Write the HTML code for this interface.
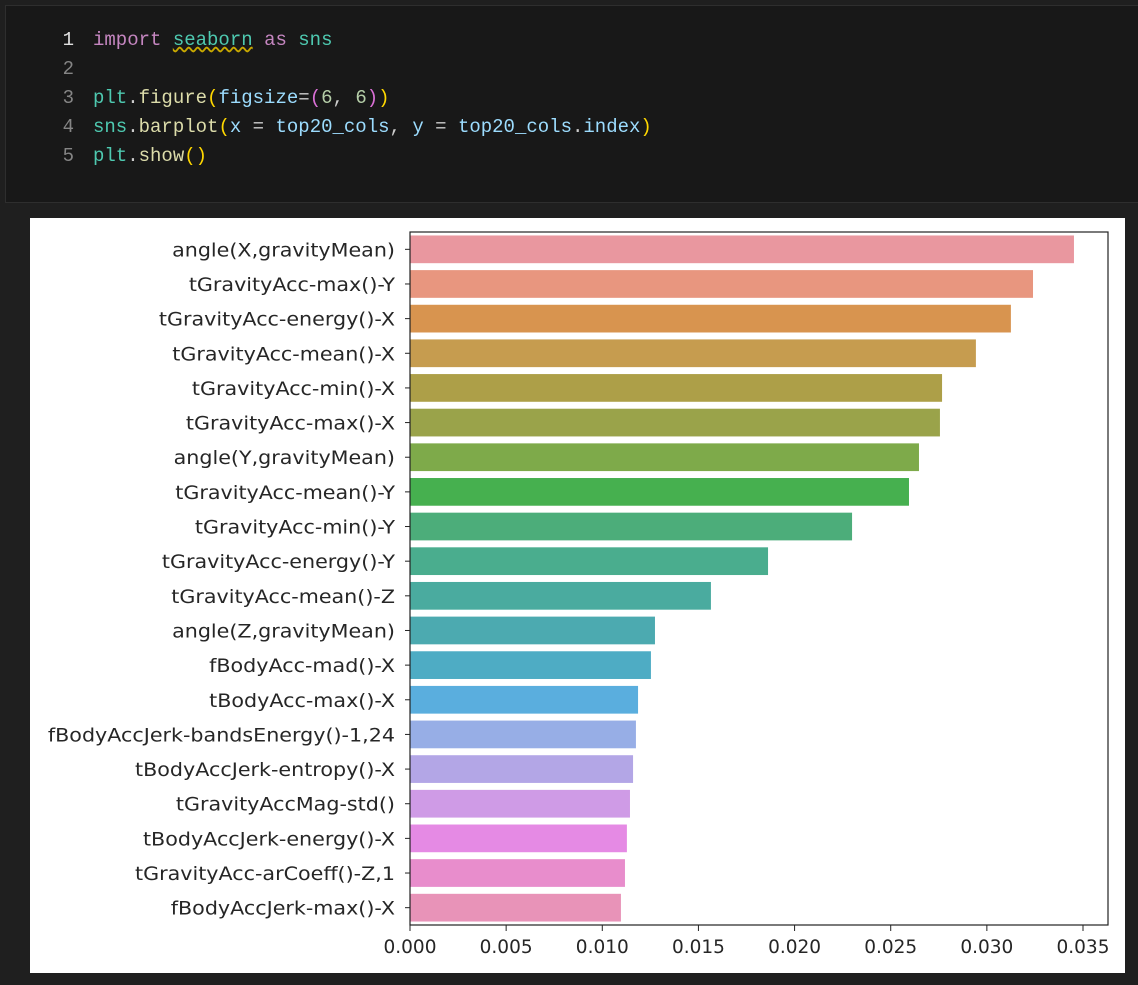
<!DOCTYPE html>
<html><head><meta charset="utf-8"><style>
body{margin:0;width:1138px;height:985px;background:#1f1f1f;overflow:hidden;position:relative;font-family:"Liberation Sans","DejaVu Sans",sans-serif}
#code{position:absolute;left:5px;top:5px;width:1140px;height:198px;background:#181818;border:1px solid #2e2e2e;box-sizing:border-box}
.ln{position:absolute;left:0;width:68px;text-align:right;color:#858585;font:19px "Liberation Mono","DejaVu Sans Mono",monospace}
.cd{position:absolute;left:87px;color:#ccc;font:19px "Liberation Mono","DejaVu Sans Mono",monospace;white-space:pre}
.k{color:#c586c0}.m{color:#4ec9b0}.f{color:#dcdcaa}.v{color:#9cdcfe}.n{color:#b5cea8}.p{color:#ffd700}.p2{color:#da70d6}
#fig{position:absolute;left:30px;top:218px;width:1095px;height:755px;background:#fff}
</style></head><body>
<div id="code">
<div class="ln" style="top:23px;color:#e0e0e0">1</div>
<div class="cd" style="top:23px"><span class="k">import</span> <span class="m" style="text-decoration:underline wavy #c8a800">seaborn</span> <span class="k">as</span> <span class="m">sns</span></div>
<div class="ln" style="top:52px">2</div>
<div class="ln" style="top:81px">3</div>
<div class="cd" style="top:81px"><span class="m">plt</span>.<span class="f">figure</span><span class="p">(</span><span class="v">figsize</span>=<span class="p2">(</span><span class="n">6</span>, <span class="n">6</span><span class="p2">)</span><span class="p">)</span></div>
<div class="ln" style="top:110px">4</div>
<div class="cd" style="top:110px"><span class="m">sns</span>.<span class="f">barplot</span><span class="p">(</span><span class="v">x</span> = <span class="v">top20_cols</span>, <span class="v">y</span> = <span class="v">top20_cols</span>.<span class="v">index</span><span class="p">)</span></div>
<div class="ln" style="top:139px">5</div>
<div class="cd" style="top:139px"><span class="m">plt</span>.<span class="f">show</span><span class="p">()</span></div>
</div>
<div id="fig">
<svg id="chart" width="1095" height="755"></svg>
</div>
<script>
const categories=["angle(X,gravityMean)","tGravityAcc-max()-Y","tGravityAcc-energy()-X","tGravityAcc-mean()-X","tGravityAcc-min()-X","tGravityAcc-max()-X","angle(Y,gravityMean)","tGravityAcc-mean()-Y","tGravityAcc-min()-Y","tGravityAcc-energy()-Y","tGravityAcc-mean()-Z","angle(Z,gravityMean)","fBodyAcc-mad()-X","tBodyAcc-max()-X","fBodyAccJerk-bandsEnergy()-1,24","tBodyAccJerk-entropy()-X","tGravityAccMag-std()","tBodyAccJerk-energy()-X","tGravityAcc-arCoeff()-Z,1","fBodyAccJerk-max()-X"];
const values=[0.03453,0.03240,0.03125,0.02943,0.02767,0.02756,0.02647,0.02595,0.02299,0.01862,0.01565,0.01274,0.01253,0.01186,0.01175,0.01160,0.01144,0.01128,0.01118,0.01097];
const colors=["#e9979f","#e8967f","#d8944f","#c69c4f","#ad9f48","#9aa34a","#7eaa4a","#46b04f","#4cad7a","#4aad8e","#4aab9f","#4caab0","#4eacc4","#5aaede","#97aee6","#b3a6e6","#cf9be6","#e58ae4","#e88dcc","#e893b8"];
const ticks=[0,0.005,0.01,0.015,0.02,0.025,0.03,0.035];
const tickLabels=["0.000","0.005","0.010","0.015","0.020","0.025","0.030","0.035"];
const NS="http://www.w3.org/2000/svg";
const svg=document.getElementById('chart');
const L=380,R=1078,T=14,B=707;
const x=v=>L+v/0.035*(1053-L);
const slot=(B-T)/categories.length;
const y=i=>T+slot*i;
function mk(t,a){const e=document.createElementNS(NS,t);for(const k in a)e.setAttribute(k,a[k]);svg.appendChild(e);return e;}
categories.forEach((c,i)=>{
 const r=mk('rect',{x:x(0),y:y(i)+slot*0.1,width:x(values[i])-x(0),height:slot*0.8,fill:colors[i]});
 
 
 const tk=mk('line',{x1:L-5,x2:L,y1:y(i)+slot/2,y2:y(i)+slot/2,stroke:'#222'});
 
 
 const t=mk('text',{x:L-15,y:y(i)+slot/2+7,'text-anchor':'end','font-size':'17.5','fill':'#262626','font-family':'"DejaVu Sans","Liberation Sans",sans-serif'});
 t.textContent=c;
 
 
 const w=t.getComputedTextLength();
 t.setAttribute('textLength',w*1.18);
 t.setAttribute('lengthAdjust','spacingAndGlyphs');
 t.setAttribute('font-size','19');
 t.setAttribute('textLength',w*1.18);
});
ticks.forEach((v,i)=>{
 const tk=mk('line',{x1:x(v),x2:x(v),y1:B,y2:B+6,stroke:'#222'});
 
 
 const t=mk('text',{x:x(v),y:B+28,'text-anchor':'middle','font-size':'18.5','fill':'#262626','font-family':'"DejaVu Sans","Liberation Sans",sans-serif'});
 t.textContent=tickLabels[i];
 
 
});
const fr=mk('rect',{x:L,y:T,width:R-L,height:B-T,fill:'none',stroke:'#222','stroke-width':1.2});


</script>
</body></html>
